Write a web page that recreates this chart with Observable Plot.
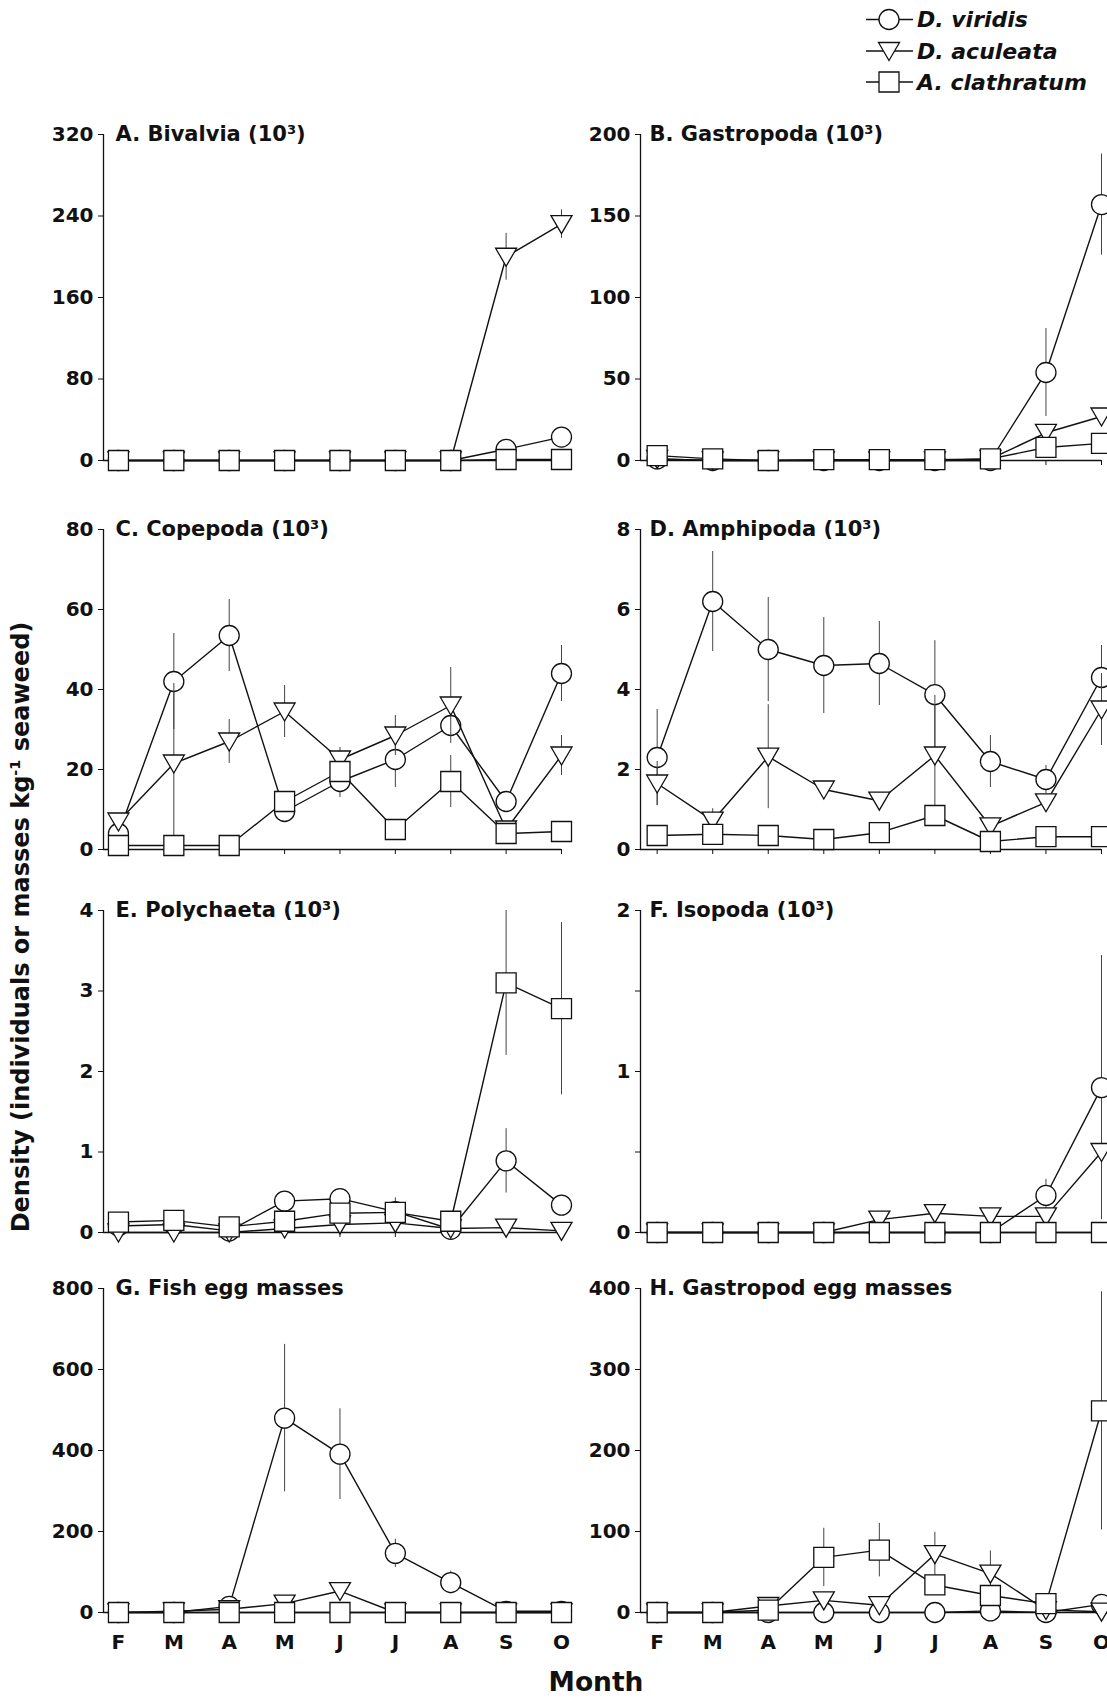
<!DOCTYPE html>
<html>
<head>
<meta charset="utf-8">
<script src="https://cdn.jsdelivr.net/npm/d3@7"></script>
<script src="https://cdn.jsdelivr.net/npm/@observablehq/plot@0.6"></script>
<style>
  html, body { margin: 0; padding: 0; background: #fff; }
  body { width: 1107px; height: 1698px; overflow: hidden; position: relative;
         font-family: "DejaVu Sans", sans-serif; color: #111; }
  .panel { position: absolute; }
  .ytitle { position: absolute; left: 21px; top: 927px; white-space: nowrap;
            transform: translate(-50%, -50%) rotate(-90deg);
            font-weight: bold; font-size: 24px; line-height: 1; }
  .ytitle sup { font-size: 0.6em; vertical-align: 0.6em; line-height: 0; }
  .xtitle { position: absolute; left: 596px; top: 1682px; transform: translate(-50%, -50%);
            font-weight: bold; font-size: 26.5px; line-height: 1; white-space: nowrap; }
  #legend { position: absolute; left: 850px; top: 0; }
</style>
</head>
<body>
<div id="fig"></div>
<div class="ytitle">Density (individuals or masses kg<sup>-1</sup> seaweed)</div>
<div class="xtitle">Month</div>
<svg id="legend" width="257" height="100"></svg>
<script>
// Sampling months (February to October) and series names
const months = ["F", "M", "A", "M", "J", "J", "A", "S", "O"];
const monthIndex = [0, 1, 2, 3, 4, 5, 6, 7, 8];
const species = ["D. viridis", "D. aculeata", "A. clathratum"];

// Mean densities per month, one row per species: D. viridis, D. aculeata, A. clathratum
// Matching standard errors follow each table (0 = no visible bar)
const bivalviaMean = [
  [0, 0, 0, 0, 0, 0, 0, 11, 23],
  [0, 0, 0, 0, 0, 0, 0, 200, 232],
  [0, 0, 0, 0, 0, 0, 0, 1, 1]
];
const bivalviaSE = [
  [0, 0, 0, 0, 0, 0, 0, 2, 3],
  [0, 0, 0, 0, 0, 0, 0, 23, 14],
  [0, 0, 0, 0, 0, 0, 0, 0, 0]
];

const gastropodaMean = [
  [1, 0, 0, 0, 0, 0, 0, 54, 157],
  [1, 0, 0, 0, 0, 0, 1, 17, 27],
  [3, 1, 0, 0.5, 0.5, 0.5, 1, 8, 10.5]
];
const gastropodaSE = [
  [0, 0, 0, 0, 0, 0, 0, 27, 31],
  [0, 0, 0, 0, 0, 0, 0, 0, 0],
  [0, 0, 0, 0, 0, 0, 0, 0, 0]
];

const copepodaMean = [
  [4, 42, 53.5, 9.5, 17, 22.5, 31, 12, 44],
  [7, 21.5, 27, 34.5, 22.5, 28.5, 36, 5, 23.5],
  [1, 1, 1, 12, 19.5, 5, 17, 4, 4.5]
];
const copepodaSE = [
  [0, 12, 9, 0, 4, 7, 0, 0, 7],
  [0, 20, 5.5, 6.5, 3, 5, 9.5, 0, 5],
  [0, 0, 0, 0, 0, 0, 6.5, 0, 0]
];

const amphipodaMean = [
  [2.3, 6.2, 5.0, 4.6, 4.65, 3.87, 2.2, 1.75, 4.3],
  [1.65, 0.72, 2.32, 1.5, 1.22, 2.35, 0.58, 1.18, 3.5],
  [0.35, 0.38, 0.35, 0.25, 0.42, 0.85, 0.2, 0.32, 0.32]
];
const amphipodaSE = [
  [1.2, 1.25, 1.3, 1.2, 1.05, 1.35, 0.65, 0.35, 0.8],
  [0.55, 0.3, 1.3, 0.15, 0.2, 1.5, 0.1, 0.2, 0.9],
  [0, 0, 0, 0, 0, 0, 0, 0, 0]
];

const polychaetaMean = [
  [0.08, 0.1, 0.02, 0.39, 0.42, 0.26, 0.04, 0.89, 0.34],
  [0, 0, 0, 0.05, 0.1, 0.12, 0.05, 0.06, 0.02],
  [0.13, 0.15, 0.07, 0.14, 0.24, 0.25, 0.14, 3.1, 2.78]
];
const polychaetaSE = [
  [0, 0, 0, 0, 0, 0.17, 0, 0.4, 0.12],
  [0, 0, 0, 0, 0, 0, 0, 0, 0],
  [0, 0, 0, 0, 0, 0, 0, 0.9, 1.07]
];

const isopodaMean = [
  [0, 0, 0, 0, 0, 0, 0, 0.23, 0.9],
  [0, 0, 0, 0, 0.08, 0.12, 0.1, 0.1, 0.5],
  [0, 0, 0, 0, 0, 0, 0, 0, 0]
];
const isopodaSE = [
  [0, 0, 0, 0, 0, 0, 0, 0.1, 0.82],
  [0, 0, 0, 0, 0, 0, 0, 0, 0],
  [0, 0, 0, 0, 0, 0, 0, 0, 0]
];

const fishEggMean = [
  [0, 0, 15, 480, 391, 146, 74, 3, 3],
  [0, 3, 8, 22, 53, 0, 0, 0, 0],
  [0, 0, 0, 0, 0, 0, 0, 0, 0]
];
const fishEggSE = [
  [0, 0, 0, 182, 112, 35, 28, 0, 0],
  [0, 0, 0, 0, 20, 0, 0, 0, 0],
  [0, 0, 0, 0, 0, 0, 0, 0, 0]
];

const gastropodEggMean = [
  [0, 0, 0, 0, 0, 0, 2, 0, 10],
  [0, 0, 8, 15, 9, 72, 48, 3, 1],
  [0, 0, 3, 68, 77, 34, 21, 11, 249]
];
const gastropodEggSE = [
  [0, 0, 0, 0, 0, 0, 0, 0, 0],
  [0, 0, 0, 10, 6, 27, 28, 0, 0],
  [0, 0, 0, 36, 33, 0, 0, 0, 147]
];

// Panel titles and y tick values
const titles = [
  "A. Bivalvia (10³)", "B. Gastropoda (10³)",
  "C. Copepoda (10³)", "D. Amphipoda (10³)",
  "E. Polychaeta (10³)", "F. Isopoda (10³)",
  "G. Fish egg masses", "H. Gastropod egg masses"
];
const yTicks = [
  [0, 80, 160, 240, 320], [0, 50, 100, 150, 200],
  [0, 20, 40, 60, 80], [0, 2, 4, 6, 8],
  [0, 1, 2, 3, 4], [0, 1, 2],
  [0, 200, 400, 600, 800], [0, 100, 200, 300, 400]
];
const yMinorTicks = [[], [], [], [], [], [0.5, 1.5], [], []];

const means = [bivalviaMean, gastropodaMean, copepodaMean, amphipodaMean,
               polychaetaMean, isopodaMean, fishEggMean, gastropodEggMean];
const errors = [bivalviaSE, gastropodaSE, copepodaSE, amphipodaSE,
                polychaetaSE, isopodaSE, fishEggSE, gastropodEggSE];

// Open symbols: circle, downward triangle, square
const triangleDown = {
  draw(ctx, size) {
    const r = Math.sqrt(size / Math.PI);
    ctx.moveTo(-1.05 * r, -0.85 * r);
    ctx.lineTo(1.05 * r, -0.85 * r);
    ctx.lineTo(0, 0.95 * r);
    ctx.closePath();
  }
};
const squareOpen = {
  draw(ctx, size) {
    const r = Math.sqrt(size / Math.PI);
    ctx.rect(-r, -r, 2 * r, 2 * r);
  }
};
const symbols = ["circle", triangleDown, squareOpen];

// Page geometry of the 2 x 4 grid (pixel positions of axis frames)
const rowTop = [134, 529, 910, 1288];
const rowBottom = [460, 849, 1232, 1612];
const columns = [
  {left: 0, width: 590, marginLeft: 103, marginRight: 29, xMin: -0.27, titleDx: 12},
  {left: 590, width: 540, marginLeft: 50, marginRight: 29, xMin: -0.30, titleDx: 9}
];
const padTop = 45;

const fig = document.getElementById("fig");

for (let p = 0; p < 8; p++) {
  const row = Math.floor(p / 2), col = columns[p % 2];
  const bottomRow = row === 3;
  const marginBottom = bottomRow ? 60 : 25;
  const height = padTop + (rowBottom[row] - rowTop[row]) + marginBottom;
  const ticks = yTicks[p];

  const marks = [
    Plot.ruleY([0], {stroke: "#111", strokeWidth: 1.3}),
    Plot.ruleX([col.xMin], {stroke: "#111", strokeWidth: 1.3}),
    Plot.axisY({ticks, tickSize: 5, tickPadding: 5, label: null,
                tickFormat: d => String(d), fontSize: 20, fontWeight: "bold"}),
    Plot.axisX({ticks: monthIndex, tickSize: 5, tickPadding: 17, label: null,
                tickFormat: i => bottomRow ? months[i] : "", fontSize: 20, fontWeight: "bold"})
  ];
  if (yMinorTicks[p].length) {
    marks.push(Plot.axisY({ticks: yMinorTicks[p], tickSize: 5, label: null, tickFormat: () => ""}));
  }

  for (let s = 0; s < 3; s++) {
    const data = monthIndex.map(i => ({
      month: i, species: species[s], v: means[p][s][i], e: errors[p][s][i]
    }));
    marks.push(
      Plot.ruleX(data.filter(d => d.e > 0), {
        x: "month", y1: d => d.v - d.e, y2: d => d.v + d.e,
        stroke: "#444", strokeWidth: 1
      }),
      Plot.line(data, {x: "month", y: "v", stroke: "#111", strokeWidth: 1.4}),
      Plot.dot(data, {x: "month", y: "v", symbol: symbols[s], r: 10,
                      fill: "white", stroke: "#111", strokeWidth: 1.3})
    );
  }

  marks.push(Plot.text([titles[p]], {
    frameAnchor: "top-left", dx: col.titleDx, lineAnchor: "middle",
    textAnchor: "start", fontSize: 21, fontWeight: "bold", fill: "#111"
  }));

  const chart = Plot.plot({
    width: col.width,
    height,
    marginLeft: col.marginLeft,
    marginRight: col.marginRight,
    marginTop: padTop,
    marginBottom,
    x: {domain: [col.xMin, 8]},
    y: {domain: [0, ticks[ticks.length - 1]]},
    style: {fontFamily: "DejaVu Sans, sans-serif", fontSize: "20px", color: "#111",
            background: "transparent", overflow: "visible", maxWidth: "none"},
    marks
  });

  const div = document.createElement("div");
  div.className = "panel";
  div.style.left = col.left + "px";
  div.style.top = (rowTop[row] - padTop) + "px";
  div.style.width = col.width + "px";
  div.appendChild(chart);
  fig.appendChild(div);
}

// Legend: line through symbol, then italic species name
const legend = d3.select("#legend");
const legendRows = [19.5, 51, 82];
species.forEach((name, s) => {
  const g = legend.append("g").attr("transform", `translate(0, ${legendRows[s]})`);
  g.append("line").attr("x1", 16).attr("x2", 63).attr("y1", 0).attr("y2", 0)
    .attr("stroke", "#111").attr("stroke-width", 1.4);
  const type = s === 0 ? d3.symbolCircle : symbols[s];
  g.append("path").attr("transform", "translate(39,0)")
    .attr("d", d3.symbol().type(type).size(Math.PI * 100)())
    .attr("fill", "white").attr("stroke", "#111").attr("stroke-width", 1.3);
  g.append("text").attr("x", 67).attr("y", 0).attr("dy", "0.36em")
    .attr("font-family", "DejaVu Sans, sans-serif").attr("font-style", "italic")
    .attr("font-weight", "bold").attr("font-size", 22).attr("fill", "#111")
    .text(name);
});
</script>
</body>
</html>
